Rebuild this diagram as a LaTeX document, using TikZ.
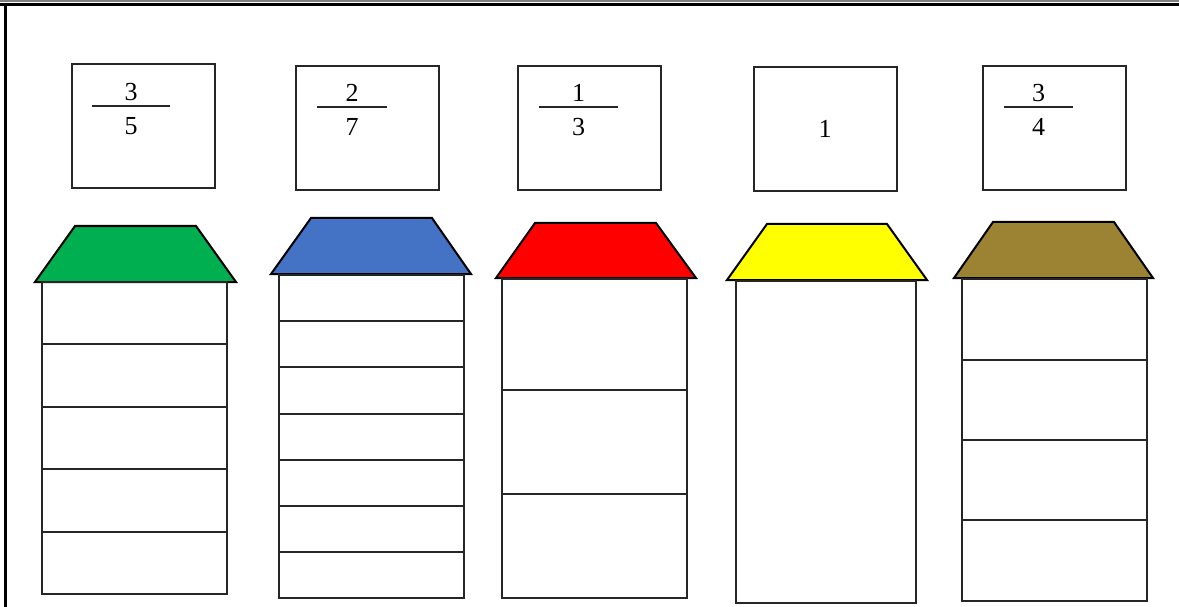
\documentclass[tikz,border=0pt]{standalone}
\usepackage{fontspec}
\setmainfont{Liberation Serif}
\usepackage{tikz}
\usetikzlibrary{calc}
\definecolor{roofgreen}{HTML}{00B050}
\definecolor{roofblue}{HTML}{4472C4}
\definecolor{roofred}{HTML}{FF0000}
\definecolor{roofyellow}{HTML}{FFFF00}
\definecolor{roofolive}{HTML}{9C8334}

\begin{document}
\begin{tikzpicture}[
    x=1pt, y=-1pt,
    card/.style={rectangle, draw=black!85, line width=2pt, inner sep=0pt,
                 minimum width=143pt, minimum height=124pt,
                 font=\fontsize{26}{28}\selectfont},
    digit/.style={inner sep=0pt, font=\fontsize{26}{28}\selectfont},
    bar/.style={draw=black!85, line width=2pt},
    roof/.style={draw=black, line width=2pt, line join=miter},
    wall/.style={draw=black!85, line width=2pt},
]
    \useasboundingbox (0,0) rectangle (1179,607);

    % Frame
    \draw[gray, line width=1.5pt] (0,1) -- (1179,1);
    \draw[line width=3pt] (0,4.5) -- (1179,4.5);
    \draw[line width=3pt] (5,4.5) -- (5,607);

    % Cards
    \node[card] (card1) at (143,126) {};
    \node[card] (card2) at (367.5,128) {};
    \node[card] (card3) at (589.5,128) {};
    \node[card] (card4) at (825,129) {1};
    \node[card] (card5) at (1054.5,128) {};

    % Fractions
    \foreach \i/\xa/\xb/\by/\num/\den in {1/92/170/106/3/5, 2/317/387/107/2/7,
                                          3/539/618/107/1/3, 5/1004/1073/107/3/4} {
        \draw[bar] (\xa,\by) -- (\xb,\by);
        \node[digit] (num\i) at ({(\xa+\xb)/2},\by-14) {\num};
        \node[digit] (den\i) at ({(\xa+\xb)/2},\by+20) {\den};
    }

    % House 1 (fifths)
    \draw[roof, fill=roofgreen] (35,282) -- (75,226) -- (196,226) -- (236,282) -- cycle;
    \draw[wall] (42,282) rectangle (227,594);
    \foreach \y in {344,407,469,532}
        \draw[wall] (42,\y) -- (227,\y);

    % House 2 (sevenths)
    \draw[roof, fill=roofblue] (271,274) -- (311,218) -- (432,218) -- (471,274) -- cycle;
    \draw[wall] (279,275) rectangle (464,598);
    \foreach \y in {321,367,414,460,506,552}
        \draw[wall] (279,\y) -- (464,\y);

    % House 3 (thirds)
    \draw[roof, fill=roofred] (496,278) -- (535,223) -- (656,223) -- (696,278) -- cycle;
    \draw[wall] (502,279) rectangle (687,598);
    \foreach \y in {390,494}
        \draw[wall] (502,\y) -- (687,\y);

    % House 4 (whole)
    \draw[roof, fill=roofyellow] (727,280) -- (767,224) -- (887,224) -- (927,280) -- cycle;
    \draw[wall] (736,281) rectangle (916,603);

    % House 5 (quarters)
    \draw[roof, fill=roofolive] (954,278) -- (993,222) -- (1114,222) -- (1153,278) -- cycle;
    \draw[wall] (962,279) rectangle (1147,601);
    \foreach \y in {360,440,520}
        \draw[wall] (962,\y) -- (1147,\y);
\end{tikzpicture}
\end{document}
